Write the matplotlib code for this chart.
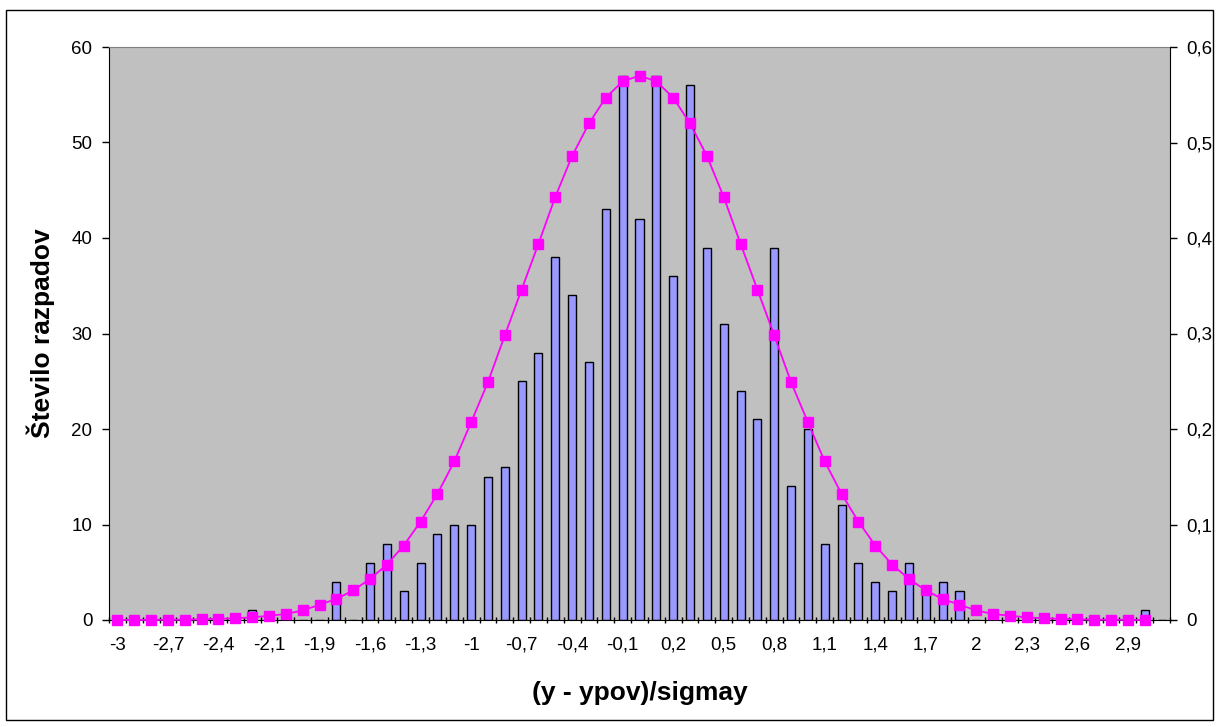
# Histogram of decays with normal curve, Excel-style look
import numpy as np
import matplotlib.pyplot as plt
from matplotlib.patches import Rectangle

plt.rcParams['font.family'] = ['Liberation Sans', 'DejaVu Sans']

# category labels (63 bins)
cats = ['-3', '-2,9', '-2,8', '-2,7', '-2,6', '-2,5', '-2,4', '-2,3', '-2,2', '-2,1', '-2', '-2',
        '-1,9', '-1,8', '-1,7', '-1,6', '-1,5', '-1,4', '-1,3', '-1,2', '-1,1', '-1',
        '-0,9', '-0,8', '-0,7', '-0,6', '-0,5', '-0,4', '-0,3', '-0,2', '-0,1', '0',
        '0,1', '0,2', '0,3', '0,4', '0,5', '0,6', '0,7', '0,8', '0,9', '1',
        '1,1', '1,2', '1,3', '1,4', '1,5', '1,6', '1,7', '1,8', '1,9', '2',
        '2,1', '2,2', '2,3', '2,4', '2,5', '2,6', '2,7', '2,8', '2,9', '3', '3,1']

# number of decays per bin
counts = [0, 0, 0, 0, 0, 0, 0, 0, 1, 0,
          0, 0, 0, 4, 0, 6, 8, 3, 6, 9,
          10, 10, 15, 16, 25, 28, 38, 34, 27, 43,
          57, 42, 57, 36, 56, 39, 31, 24, 21, 39,
          14, 20, 8, 12, 6, 4, 3, 6, 3, 4,
          3, 0, 0, 0, 0, 0, 0, 0, 0, 0,
          0, 1, 0]

# normal curve (secondary axis), one value per bin up to '3'
gauss = [0.0001, 0.0001, 0.0002, 0.0003, 0.0004, 0.0007, 0.0012, 0.0018, 0.0028, 0.0044,
         0.0063, 0.010, 0.016, 0.022, 0.031, 0.043, 0.058, 0.078, 0.103, 0.132,
         0.166, 0.207, 0.249, 0.298, 0.346, 0.394, 0.443, 0.486, 0.520, 0.547,
         0.564, 0.570, 0.564, 0.547, 0.520, 0.486, 0.443, 0.394, 0.346, 0.298,
         0.249, 0.207, 0.166, 0.132, 0.103, 0.078, 0.058, 0.043, 0.031, 0.022,
         0.016, 0.010, 0.0063, 0.0044, 0.0028, 0.0018, 0.0012, 0.0007, 0.0004, 0.0003,
         0.0002, 0.0001]

left_ticks = [0, 10, 20, 30, 40, 50, 60]
right_ticks = [0, 0.1, 0.2, 0.3, 0.4, 0.5, 0.6]
right_labels = ['0', '0,1', '0,2', '0,3', '0,4', '0,5', '0,6']

fig = plt.figure(figsize=(12.18, 7.27), dpi=100)
ax = fig.add_axes([109 / 1218, 107 / 727, 1061 / 1218, 573 / 727])
ax.set_facecolor('#C0C0C0')

x = np.arange(len(cats))
ax.bar(x, counts, width=0.48, color='#9999FF', edgecolor='black', linewidth=1.0, zorder=2)
ax.set_xlim(-0.5, len(cats) - 0.5)
ax.set_ylim(0, 60)

# category axis: labels every 3rd bin, tick marks between bins
ax.set_xticks(x[::3])
ax.set_xticklabels(cats[::3], fontsize=13.5)
ax.set_xticks(np.arange(-0.5, len(cats), 1), minor=True)
ax.tick_params(axis='x', which='major', length=0, pad=12)
ax.tick_params(axis='x', which='minor', length=4, direction='inout', width=1)

ax.set_yticks(left_ticks)
ax.tick_params(axis='y', length=5, width=1, direction='out', labelsize=13.5, pad=7)

ax.spines['top'].set_color('#808080')
ax.spines['right'].set_visible(False)
for s in ['left', 'bottom']:
    ax.spines[s].set_color('black')

ax.set_ylabel('Število razpadov', fontsize=19, fontweight='bold', labelpad=12)
ax.set_xlabel('(y - ypov)/sigmay', fontsize=19, fontweight='bold', labelpad=20)

ax2 = ax.twinx()
ax2.plot(x[:len(gauss)], gauss, color='#FF00FF', linewidth=1.3, marker='s',
         markersize=7.5, markeredgecolor='#FF00FF', clip_on=False, zorder=3)
ax2.set_ylim(0, 0.6)
ax2.set_yticks(right_ticks)
ax2.set_yticklabels(right_labels)
ax2.tick_params(axis='y', length=5, width=1, direction='out', labelsize=13.5, pad=7)
for s in ['top', 'left', 'bottom']:
    ax2.spines[s].set_visible(False)
ax2.spines['right'].set_color('black')

# outer chart border
fig.patches.append(Rectangle((5.5 / 1218, 7 / 727), 1207.5 / 1218, 710 / 727,
                             transform=fig.transFigure, fill=False,
                             edgecolor='black', linewidth=1))

fig.savefig('out.png', dpi=100, facecolor='white')
